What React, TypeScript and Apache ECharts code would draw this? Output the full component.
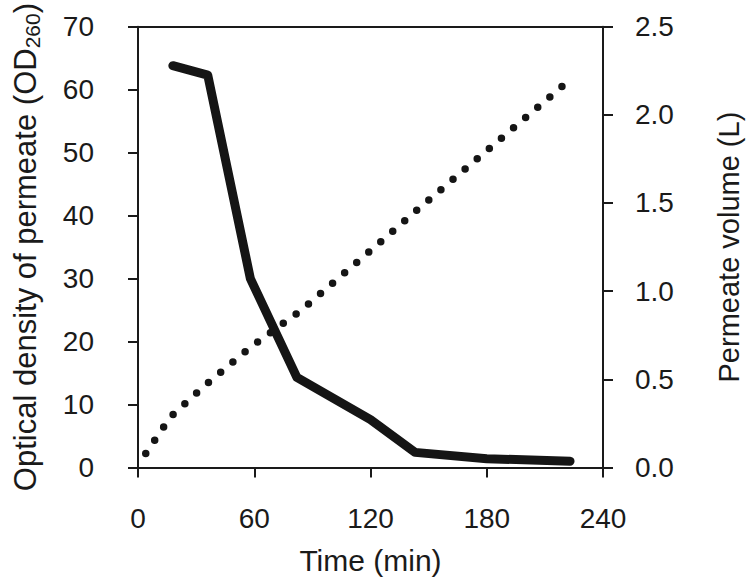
import React, { useEffect, useRef } from "react";
import * as echarts from "echarts";

const timeOD = [18, 36, 58, 82, 120, 143, 180, 223];
const odValues = [63.8, 62.3, 30.0, 14.3, 7.6, 2.4, 1.4, 1.0];
const timeVol = [4, 17, 35, 59, 84, 120, 144, 222];
const volValues = [0.08, 0.29, 0.47, 0.69, 0.89, 1.23, 1.46, 2.19];
const xTicks = [0, 60, 120, 180, 240];

const FONT = "'Liberation Sans', Arial, Helvetica, sans-serif";
const INK = "#1a1a1a";

export default function App() {
  const ref = useRef<HTMLDivElement>(null);
  useEffect(() => {
    if (!ref.current) return;
    const chart = echarts.init(ref.current, undefined, { renderer: "svg" });
    const lineAxis = { show: true, lineStyle: { color: INK, width: 2 } };
    const tick = { show: true, inside: false, length: 10, lineStyle: { color: INK, width: 2 } };
    chart.setOption({
      animation: false,
      backgroundColor: "#ffffff",
      grid: { left: 126, right: 140, top: 15, bottom: 119.5, containLabel: false },
      xAxis: [
        {
          type: "value",
          min: xTicks[0],
          max: xTicks[xTicks.length - 1],
          interval: 60,
          position: "bottom",
          name: "Time (min)",
          nameLocation: "middle",
          nameGap: 78,
          nameTextStyle: { fontFamily: FONT, fontSize: 30, color: INK },
          axisLine: { ...lineAxis, onZero: false },
          axisTick: tick,
          splitLine: { show: false },
          axisLabel: { fontFamily: FONT, fontSize: 28, color: INK, margin: 37 },
        },
        {
          type: "value",
          min: 0,
          max: 240,
          position: "top",
          axisLine: { ...lineAxis, onZero: false },
          axisTick: { show: false },
          axisLabel: { show: false },
          splitLine: { show: false },
        },
      ],
      yAxis: [
        {
          type: "value",
          min: 0,
          max: 70,
          interval: 10,
          position: "left",
          name: "{a|Optical density of permeate (OD}{s|260}{a|)}",
          nameLocation: "middle",
          nameGap: 95,
          nameTextStyle: {
            fontFamily: FONT,
            color: INK,
            rich: {
              a: { fontFamily: FONT, fontSize: 31, color: INK, lineHeight: 35 },
              s: { fontFamily: FONT, fontSize: 21, color: INK, lineHeight: 35, padding: [14, 0, 0, 0] },
            },
          },
          axisLine: { ...lineAxis, onZero: false },
          axisTick: tick,
          splitLine: { show: false },
          axisLabel: { fontFamily: FONT, fontSize: 28, color: INK, margin: 44 },
        },
        {
          type: "value",
          min: 0,
          max: 2.5,
          interval: 0.5,
          position: "right",
          name: "Permeate volume (L)",
          nameLocation: "middle",
          nameGap: 111,
          nameTextStyle: { fontFamily: FONT, fontSize: 29, color: INK },
          axisLine: { ...lineAxis, onZero: false },
          axisTick: tick,
          splitLine: { show: false },
          axisLabel: {
            fontFamily: FONT,
            fontSize: 28,
            color: INK,
            margin: 32,
            formatter: (v: number) => v.toFixed(1),
          },
        },
      ],
      series: [
        {
          type: "line",
          xAxisIndex: 0,
          yAxisIndex: 0,
          data: timeOD.map((t, i) => [t, odValues[i]]),
          showSymbol: false,
          symbol: "none",
          lineStyle: { color: "#151515", width: 9, cap: "round", join: "round" },
          z: 3,
        },
        {
          type: "line",
          xAxisIndex: 0,
          yAxisIndex: 1,
          data: timeVol.map((t, i) => [t, volValues[i]]),
          showSymbol: false,
          symbol: "none",
          lineStyle: { color: "#151515", width: 7.5, type: [0, 15.9], cap: "round", join: "round" },
          z: 2,
        },
      ],
    });
    return () => chart.dispose();
  }, []);
  return (
    <div
      ref={ref}
      style={{ position: "fixed", left: 0, top: 0, width: 751, height: 587, background: "#fff" }}
    />
  );
}
